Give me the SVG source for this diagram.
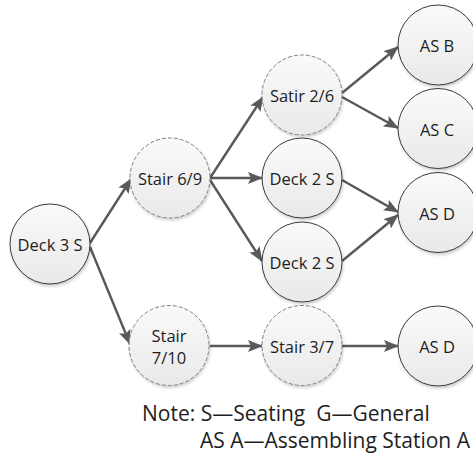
<svg xmlns="http://www.w3.org/2000/svg" width="473" height="464" viewBox="0 0 473 464">
<defs>
<linearGradient id="g" x1="0" y1="0" x2="0" y2="1">
<stop offset="0" stop-color="#fafafa"/>
<stop offset="1" stop-color="#e9e9e9"/>
</linearGradient>
<filter id="sh" x="-20%" y="-20%" width="140%" height="140%">
<feGaussianBlur in="SourceAlpha" stdDeviation="1.5"/>
<feOffset dx="1" dy="2" result="b"/>
<feComponentTransfer><feFuncA type="linear" slope="0.2"/></feComponentTransfer>
<feMerge><feMergeNode/><feMergeNode in="SourceGraphic"/></feMerge>
</filter>
<marker id="ah" markerUnits="userSpaceOnUse" markerWidth="15" markerHeight="12" refX="14" refY="6" orient="auto">
<path d="M0,0 L15,6 L0,12 L3,6 Z" fill="#595959"/>
</marker>
</defs>
<style>
.n{fill:url(#g);stroke:#3a3a3a;stroke-width:1;filter:url(#sh)}
.d{fill:url(#g);stroke:#7f7f7f;stroke-width:1;stroke-dasharray:4 2;filter:url(#sh)}
.t{font-family:"Open Sans","Noto Sans",sans-serif;font-size:16.5px;fill:#1e1e1e;text-anchor:middle;dominant-baseline:central}
.c line{stroke:#595959;stroke-width:2.4;marker-end:url(#ah)}
.note{font-family:"Open Sans","Noto Sans",sans-serif;font-size:21px;fill:#1e1e1e;white-space:pre}
</style>
<g class="c" id="connectors">
<line x1="90" y1="243" x2="131" y2="179"/>
<line x1="90" y1="247" x2="130" y2="344"/>
<line x1="210" y1="178" x2="263" y2="97"/>
<line x1="210" y1="178" x2="262" y2="178"/>
<line x1="210" y1="180" x2="262" y2="261"/>
<line x1="342" y1="93" x2="398" y2="47"/>
<line x1="342" y1="97" x2="398" y2="128"/>
<line x1="342" y1="180" x2="398" y2="212"/>
<line x1="342" y1="261" x2="398" y2="215"/>
<line x1="210" y1="346" x2="262" y2="346"/>
<line x1="342" y1="346" x2="398" y2="346"/>
</g>
<g id="deck3s"><circle class="n" cx="50" cy="244" r="40"/><text class="t" x="50" y="244">Deck 3 S</text></g>
<g id="stair69"><circle class="d" cx="170" cy="178" r="40"/><text class="t" x="170" y="178">Stair 6/9</text></g>
<g id="stair710"><circle class="d" cx="169" cy="345.5" r="40"/><text class="t" x="169" y="335">Stair</text><text class="t" x="169" y="357">7/10</text></g>
<g id="satir26"><circle class="d" cx="302" cy="95" r="40"/><text class="t" x="302" y="95">Satir 2/6</text></g>
<g id="deck2s-1"><circle class="n" cx="302" cy="178" r="40"/><text class="t" x="302" y="178">Deck 2 S</text></g>
<g id="deck2s-2"><circle class="n" cx="302" cy="262" r="40"/><text class="t" x="302" y="262">Deck 2 S</text></g>
<g id="stair37"><circle class="d" cx="302" cy="345.5" r="40"/><text class="t" x="302" y="346">Stair 3/7</text></g>
<g id="asb"><circle class="n" cx="438" cy="45" r="40"/><text class="t" x="437" y="45">AS B</text></g>
<g id="asc"><circle class="n" cx="438" cy="128.5" r="40"/><text class="t" x="437" y="129">AS C</text></g>
<g id="asd-1"><circle class="n" cx="438" cy="212.5" r="40"/><text class="t" x="437" y="213">AS D</text></g>
<g id="asd-2"><circle class="n" cx="438" cy="346" r="40"/><text class="t" x="437" y="346">AS D</text></g>
<g id="note">
<text class="note" x="142" y="421" xml:space="preserve">Note: S—Seating  G—General</text>
<text class="note" x="200" y="448">AS A—Assembling Station A</text>
</g>
</svg>
